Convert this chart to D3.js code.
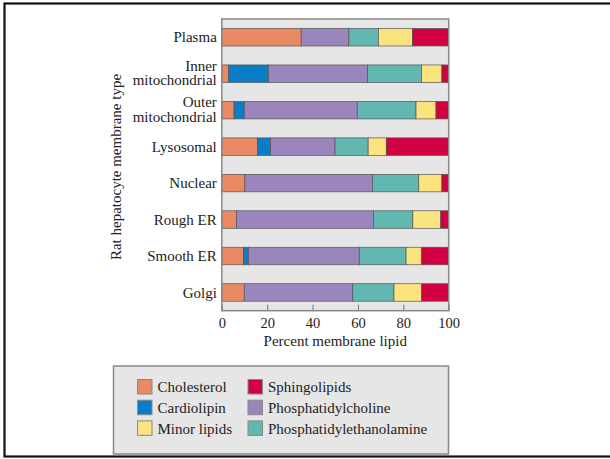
<!DOCTYPE html>
<html>
<head>
<meta charset="utf-8">
<script src="https://cdn.jsdelivr.net/npm/d3@7"></script>
<style>
  body { margin: 0; background: #fff; }
  svg text { font-family: "Liberation Serif", "DejaVu Serif", serif; fill: #222; }
</style>
</head>
<body>
<svg id="chart" width="610" height="459"></svg>
<script>
// membrane types, top to bottom
const membranes = ["Plasma", "Inner mitochondrial", "Outer mitochondrial", "Lysosomal",
                   "Nuclear", "Rough ER", "Smooth ER", "Golgi"];
const lipids = ["Cholesterol", "Cardiolipin", "Phosphatidylcholine",
                "Phosphatidylethanolamine", "Minor lipids", "Sphingolipids"];
const lipidColors = ["#ea8a65", "#0a7dc8", "#9a86bc", "#62b8b0", "#fbe37f", "#d10042"];

// percent of membrane lipid, one array per lipid in membrane order
const cholesterol   = [35, 3, 5.4, 15.7, 10.2, 6.5, 9.5, 9.9];
const cardiolipin   = [0, 17.5, 4.5, 5.8, 0, 0, 2.2, 0];
const phosCholine   = [21, 43.8, 49.8, 28.4, 56.2, 60.3, 48.9, 47.8];
const phosEthanol   = [13, 23.7, 25.9, 14.6, 20.4, 17.4, 20.6, 18.2];
const minorLipids   = [15, 9, 8.8, 8, 10.2, 12.3, 6.9, 12.2];
const sphingolipids = [16, 3, 5.6, 27.5, 3, 3.5, 11.9, 11.9];

const xTicks = [0, 20, 40, 60, 80, 100];

const series = [cholesterol, cardiolipin, phosCholine, phosEthanol, minorLipids, sphingolipids];
const rows = membranes.map((m, i) => {
  let r = {membrane: m};
  lipids.forEach((l, j) => r[l] = series[j][i]);
  return r;
});

const svg = d3.select("svg#chart");
const plot = {left: 221.8, right: 448.7, top: 19, bottom: 310.7};
const fs = 15;

// outer black frame (cut on the right)
svg.append("rect")
  .attr("x", 4.5).attr("y", 3.5).attr("width", 640).attr("height", 453)
  .attr("fill", "none").attr("stroke", "#111").attr("stroke-width", 2.2);

const x = d3.scaleLinear().domain([0, 100]).range([plot.left, plot.right]);
const y = d3.scaleBand().domain(membranes).range([plot.top, plot.bottom])
  .paddingInner(0.52).paddingOuter(0.26);

svg.append("rect")
  .attr("x", plot.left).attr("y", plot.top)
  .attr("width", plot.right - plot.left).attr("height", plot.bottom - plot.top)
  .attr("fill", "#e6e6e6");

const stacked = d3.stack().keys(lipids)(rows);
const color = d3.scaleOrdinal().domain(lipids).range(lipidColors);

svg.append("g").selectAll("g").data(stacked).join("g")
  .attr("fill", d => color(d.key))
  .selectAll("rect").data(d => d.filter(s => s[1] - s[0] > 0)).join("rect")
  .attr("x", d => x(d[0]))
  .attr("width", d => x(d[1]) - x(d[0]))
  .attr("y", d => y(d.data.membrane))
  .attr("height", y.bandwidth())
  .attr("stroke", "#555")
  .attr("stroke-width", 0.7);

// ticks inside the frame, pointing up
const xAxis = svg.append("g")
  .attr("transform", `translate(0,${plot.bottom})`)
  .call(d3.axisBottom(x).tickValues(xTicks).tickSize(-6).tickPadding(7));
xAxis.select(".domain").remove();
xAxis.selectAll(".tick line").attr("stroke", "#777");
xAxis.selectAll(".tick text").attr("font-size", 14.5).attr("font-family", "Liberation Serif").attr("fill", "#222");

// frame
svg.append("rect")
  .attr("x", plot.left).attr("y", plot.top)
  .attr("width", plot.right - plot.left).attr("height", plot.bottom - plot.top)
  .attr("fill", "none").attr("stroke", "#888").attr("stroke-width", 1.5);

// category labels
const catLabels = svg.append("g").selectAll("text").data(membranes).join("text")
  .attr("text-anchor", "end")
  .attr("font-size", fs)
  .attr("x", plot.left - 5)
  .attr("y", d => y(d) + y.bandwidth() / 2);
catLabels.each(function(d) {
  const parts = d.includes("mitochondrial") ? d.split(" ") : [d];
  const t = d3.select(this);
  parts.forEach((p, i) => {
    t.append("tspan")
      .attr("x", plot.left - 5)
      .attr("dy", i === 0 ? (parts.length === 1 ? "0.35em" : "-0.2em") : "0.98em")
      .text(p);
  });
});

svg.append("text")
  .attr("text-anchor", "middle").attr("font-size", fs)
  .attr("x", (plot.left + plot.right) / 2).attr("y", 346)
  .text("Percent membrane lipid");

svg.append("text")
  .attr("text-anchor", "middle").attr("font-size", fs)
  .attr("transform", `translate(121,167) rotate(-90)`)
  .text("Rat hepatocyte membrane type");

// legend
const legend = svg.append("g");
legend.append("rect")
  .attr("x", 113.5).attr("y", 366).attr("width", 335).attr("height", 88)
  .attr("fill", "#e6e6e6").attr("stroke", "#888").attr("stroke-width", 1.5);

const legendOrder = ["Cholesterol", "Cardiolipin", "Minor lipids",
                     "Sphingolipids", "Phosphatidylcholine", "Phosphatidylethanolamine"];
const item = legend.selectAll("g.item").data(legendOrder).join("g")
  .attr("class", "item")
  .attr("transform", (d, i) => `translate(${i < 3 ? 137.5 : 248},${379.5 + (i % 3) * 20.7})`);
item.append("rect")
  .attr("width", 14.5).attr("height", 14.5)
  .attr("fill", d => color(d)).attr("stroke", "#888").attr("stroke-width", 1);
item.append("text")
  .attr("x", 20).attr("y", 7.5).attr("dy", "0.35em")
  .attr("font-size", fs)
  .text(d => d);
</script>
</body>
</html>
